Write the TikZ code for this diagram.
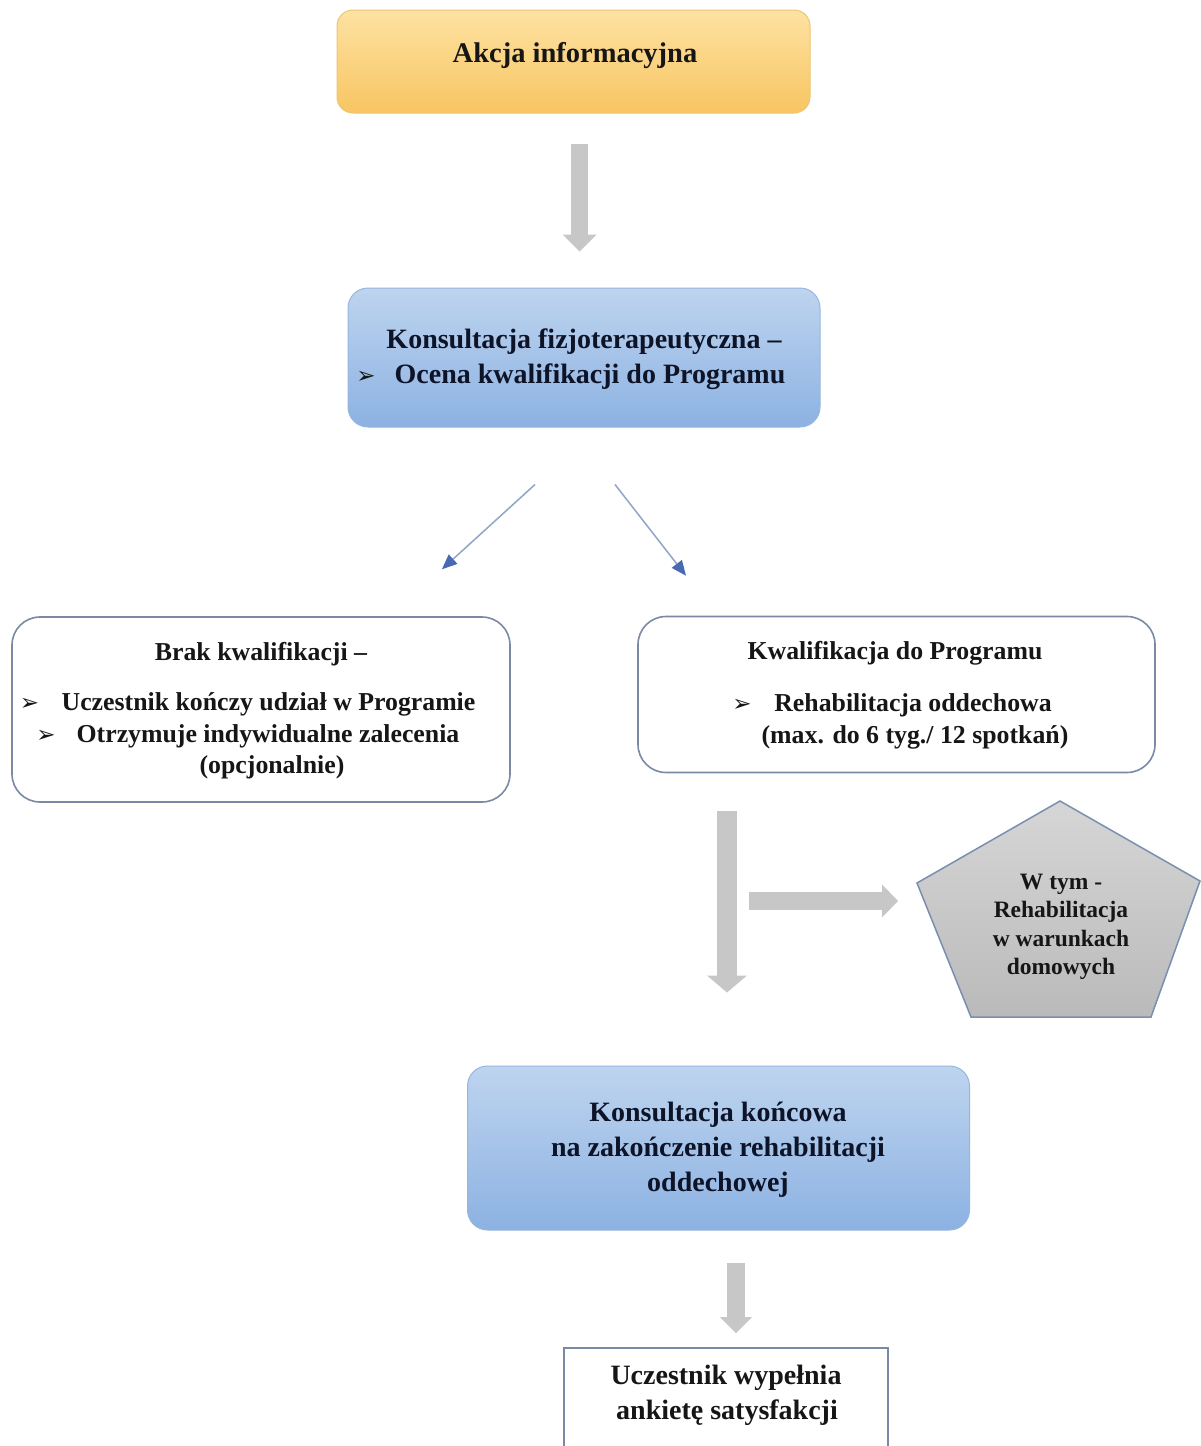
\documentclass[tikz,border=0pt]{standalone}
\usepackage{fontspec}
\setmainfont{Liberation Serif}
\newfontfamily\dejavu{DejaVu Sans}
\usetikzlibrary{arrows.meta,calc}
\definecolor{ylTop}{RGB}{253,226,162}
\definecolor{ylBot}{RGB}{248,197,98}
\definecolor{ylLine}{RGB}{236,198,112}
\definecolor{blTop}{RGB}{190,212,239}
\definecolor{blBot}{RGB}{140,178,226}
\definecolor{blLine}{RGB}{150,182,222}
\definecolor{frameLine}{RGB}{122,138,165}
\definecolor{arrGray}{RGB}{199,199,199}
\definecolor{thinLine}{RGB}{146,164,200}
\definecolor{thinTip}{RGB}{72,106,180}
\definecolor{pgTop}{RGB}{214,214,214}
\definecolor{pgBot}{RGB}{186,186,186}
\definecolor{pgLine}{RGB}{122,142,176}
\definecolor{txt}{RGB}{22,22,22}
\definecolor{txtb}{RGB}{14,20,40}
\tikzset{
  ybox/.style={draw=ylLine, line width=1pt, rounded corners=16pt, top color=ylTop, bottom color=ylBot, inner sep=0pt},
  bbox/.style={draw=blLine, line width=1pt, rounded corners=20pt, top color=blTop, bottom color=blBot, inner sep=0pt},
  wbox/.style={draw=frameLine, line width=1.6pt, rounded corners=28pt, fill=white, inner sep=0pt},
  sqbox/.style={draw=frameLine, line width=1.6pt, fill=white, inner sep=0pt},
  tx/.style={inner sep=0pt, anchor=base, text=txt},
  txb/.style={inner sep=0pt, anchor=base, text=txtb},
  fa/.style={font=\bfseries\fontsize{28.5}{30}\selectfont},
  fb/.style={font=\bfseries\fontsize{28}{30}\selectfont},
  fc/.style={font=\bfseries\fontsize{25.8}{28}\selectfont},
  fd/.style={font=\bfseries\fontsize{23.5}{25}\selectfont},
  bul/.style={inner sep=0pt, anchor=base, text=txt, font=\dejavu\fontsize{23}{25}\selectfont},
  blockarrow/.style={draw=arrGray, line width=18pt, -{Triangle[width=34pt,length=17pt,line width=0pt]}},
  thinarrow/.style={draw=thinLine, line width=1.5pt, -{Triangle[width=13pt,length=15pt,line width=0pt,fill=thinTip,color=thinTip]}}
}
\begin{document}
\begin{tikzpicture}[x=1pt,y=-1pt]
\useasboundingbox (0,0) rectangle (1201,1446);
\fill[white] (0,0) rectangle (1201,1446);
\clip (0,0) rectangle (1201,1446);

% boxes
\node[ybox, minimum width=473pt, minimum height=103pt] (akcja) at (573.5,61.5) {};
\node[bbox, minimum width=472pt, minimum height=139pt] (konsult) at (584,357.5) {};
\node[wbox, minimum width=498pt, minimum height=185pt] (brak) at (261,709.5) {};
\node[wbox, minimum width=517pt, minimum height=156pt] (kwal) at (896.5,694.5) {};
\node[bbox, minimum width=502pt, minimum height=164pt] (koncowa) at (718.5,1148) {};
\node[sqbox, minimum width=324pt, minimum height=130pt, anchor=north] (ankieta) at (726,1347) {};

% pentagon
\coordinate (pgT) at (1060,801);
\coordinate (pgR) at (1200,881);
\coordinate (pgBR) at (1151,1017);
\coordinate (pgBL) at (971,1017);
\coordinate (pgL) at (917,883);
\path[draw=pgLine, line width=1.5pt, top color=pgTop, bottom color=pgBot]
  (pgT) -- (pgR) -- (pgBR) -- (pgBL) -- (pgL) -- cycle;

% texts
\node[tx, fa] (t1) at (575,62) {Akcja informacyjna};

\node[txb, fb] (t2a) at (584,348) {Konsultacja fizjoterapeutyczna –};
\node[bul] (b2) at (366,383) {➢};
\node[txb, fb] (t2b) at (590,383) {Ocena kwalifikacji do Programu};

\node[tx, fc] (t3a) at (261,660) {Brak kwalifikacji –};
\node[bul] (b3a) at (29.5,710) {➢};
\node[tx, fc] (t3b) at (268.5,710) {Uczestnik kończy udział w Programie};
\node[bul] (b3b) at (46,742) {➢};
\node[tx, fc] (t3c) at (268,742) {Otrzymuje indywidualne zalecenia};
\node[tx, fc] (t3d) at (272,773) {(opcjonalnie)};

\node[tx, fc] (t4a) at (895,659) {Kwalifikacja do Programu};
\node[bul] (b4) at (742,711) {➢};
\node[tx, fc] (t4b) at (913,711) {Rehabilitacja oddechowa};
\node[tx, fc] (t4c) at (915,743) {(max. do 6 tyg./ 12 spotkań)};

\node[tx, fd] (t5a) at (1061,889) {W tym -};
\node[tx, fd] (t5b) at (1061,917) {Rehabilitacja};
\node[tx, fd] (t5c) at (1061,946) {w warunkach};
\node[tx, fd] (t5d) at (1061,974) {domowych};

\node[txb, fb] (t6a) at (718,1121) {Konsultacja końcowa};
\node[txb, fb] (t6b) at (718,1156) {na zakończenie rehabilitacji};
\node[txb, fb] (t6c) at (718,1191) {oddechowej};

\node[tx, fb] (t7a) at (726,1384) {Uczestnik wypełnia};
\node[tx, fb] (t7b) at (727,1419) {ankietę satysfakcji};

% connectors
\draw[blockarrow, line width=17pt] ($(akcja.south)+(6,30)$) -- ($(konsult.north)+(-4.5,-36)$);
\draw[thinarrow] ($(konsult.south)+(-49,57)$) -- ($(brak.north)+(181,-47)$);
\draw[thinarrow] ($(konsult.south)+(31,57)$) -- ($(kwal.north)+(-210.5,-40)$);
\draw[draw=arrGray, line width=20pt, -{Triangle[width=40pt,length=17pt,line width=0pt]}]
  ($(kwal.south)+(-169.5,38)$) coordinate (vstart) -- ($(koncowa.north)+(8.5,-73)$) coordinate (vend);
\coordinate (hend) at ($(pgL)+(-19,18)$);
\coordinate (hbase) at ($(vstart)+(22,0)$);
\coordinate (hstart) at (hbase |- hend);
\draw[draw=arrGray, line width=18pt, -{Triangle[width=33pt,length=16pt,line width=0pt]}]
  (hstart) -- (hend);
\draw[blockarrow, -{Triangle[width=32pt,length=16pt,line width=0pt]}] ($(koncowa.south)+(17.5,32)$) -- ($(ankieta.north)+(10,-14)$);
\end{tikzpicture}
\end{document}
